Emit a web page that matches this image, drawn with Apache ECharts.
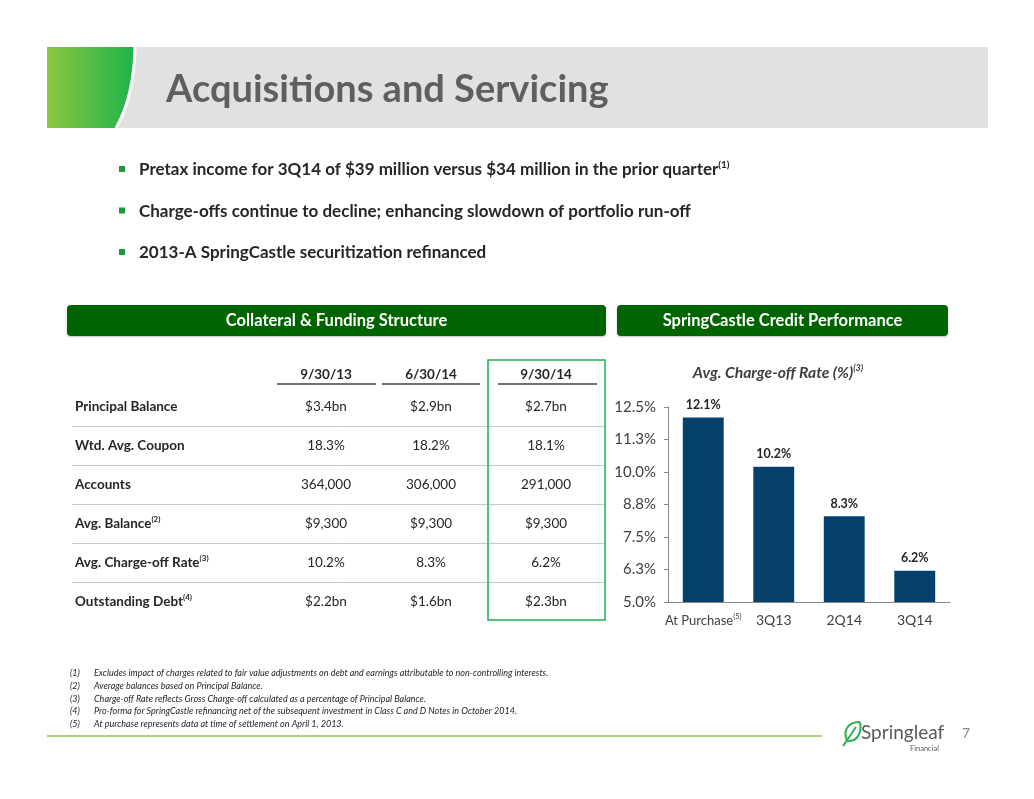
<!DOCTYPE html>
<html>
<head>
<meta charset="utf-8">
<title>Acquisitions and Servicing</title>
<script src="https://cdn.jsdelivr.net/npm/echarts@6/dist/echarts.min.js"></script>
<style>
  html, body { margin: 0; padding: 0; background: #fff; }
  #container { width: 1034px; height: 799px; }
</style>
</head>
<body>
<div id="container"></div>
<script>
// 数据
const categories = ['At Purchase', '3Q13', '2Q14', '3Q14'];
const chargeOffRate = [12.1, 10.2, 8.3, 6.2];
const yMin = 5, yMax = 12.5, yStep = 1.25;

const bullets = [
  ['Pretax income for 3Q14 of $39 million versus $34 million in the prior quarter', '(1)'],
  ['Charge-offs continue to decline; enhancing slowdown of portfolio run-off', ''],
  ['2013-A SpringCastle securitization refinanced', '']
];

const tableColumns = ['9/30/13', '6/30/14', '9/30/14'];
const tableRows = ['Principal Balance', 'Wtd. Avg. Coupon', 'Accounts', 'Avg. Balance', 'Avg. Charge-off Rate', 'Outstanding Debt'];
const rowNotes = ['', '', '', '(2)', '(3)', '(4)'];
const tableValues = [
  ['$3.4bn', '$2.9bn', '$2.7bn'],
  ['18.3%', '18.2%', '18.1%'],
  ['364,000', '306,000', '291,000'],
  ['$9,300', '$9,300', '$9,300'],
  ['10.2%', '8.3%', '6.2%'],
  ['$2.2bn', '$1.6bn', '$2.3bn']
];

const footnotes = [
  'Excludes impact of charges related to fair value adjustments on debt and earnings attributable to non-controlling interests.',
  'Average balances based on Principal Balance.',
  'Charge-off Rate reflects Gross Charge-off calculated as a percentage of Principal Balance.',
  'Pro-forma for SpringCastle refinancing net of the subsequent investment in Class C and D Notes in October 2014.',
  'At purchase represents data at time of settlement on April 1, 2013.'
];

const FONT = 'Lato, "Noto Sans", sans-serif';

var myChart = echarts.init(document.getElementById('container'));

// 页面装饰
let graphics = [];

// 标题栏
graphics.push({ type: 'rect', shape: { x: 47, y: 47, width: 941, height: 81 }, style: { fill: '#e1e1e1' } });
let curve = [];
for (let i = 0; i <= 20; i++) {
  let t = i / 20;
  let x = (1 - t) * (1 - t) * 135 + 2 * t * (1 - t) * 134 + t * t * 116;
  let y = (1 - t) * (1 - t) * 47 + 2 * t * (1 - t) * 96 + t * t * 128;
  curve.push([x, y]);
}
graphics.push({
  type: 'polygon',
  shape: { points: [[47, 47]].concat(curve).concat([[47, 128]]) },
  style: {
    fill: new echarts.graphic.LinearGradient(0, 0, 1, 0, [
      { offset: 0, color: '#8cc63f' },
      { offset: 1, color: '#1db34b' }
    ])
  }
});
graphics.push({ type: 'polyline', shape: { points: curve }, style: { stroke: '#fff', lineWidth: 3, fill: null } });
graphics.push({
  type: 'text',
  style: { x: 166, y: 90, text: 'Acquisitions and Servicing', font: 'bold 38px ' + FONT, fill: '#5f5f5f', verticalAlign: 'middle' }
});

// 要点
bullets.forEach(function (b, i) {
  let y = 170 + i * 41.5;
  graphics.push({ type: 'rect', shape: { x: 119, y: y - 4, width: 6, height: 6 }, style: { fill: '#1a9a3c' } });
  graphics.push({
    type: 'text',
    style: {
      x: 139, y: y,
      text: '{m|' + b[0] + '}' + (b[1] ? '{s|' + b[1] + '}' : ''),
      verticalAlign: 'middle',
      rich: {
        m: { fontFamily: FONT, fontWeight: 'bold', fontSize: 17, fill: '#262626' },
        s: { fontFamily: FONT, fontWeight: 'bold', fontSize: 10, fill: '#262626', padding: [0, 0, 10, 0] }
      }
    }
  });
});

// 分区标题
[[67, 539, 'Collateral & Funding Structure'], [617, 331, 'SpringCastle Credit Performance']].forEach(function (h) {
  graphics.push({
    type: 'rect',
    shape: { x: h[0], y: 305, width: h[1], height: 31, r: 4 },
    style: { fill: '#006400', shadowBlur: 2, shadowColor: 'rgba(0,0,0,0.25)', shadowOffsetY: 1 }
  });
  graphics.push({
    type: 'text',
    style: { x: h[0] + h[1] / 2, y: 321, text: h[2], font: 'bold 16.5px ' + FONT, fill: '#fff', align: 'center', verticalAlign: 'middle' }
  });
});

// 表格
const colX = [326, 431, 546];
const colLine = [[277, 376], [382, 480], [498, 597]];
tableColumns.forEach(function (c, j) {
  graphics.push({
    type: 'text',
    style: { x: colX[j], y: 375, text: c, font: 'bold 13.5px ' + FONT, fill: '#262626', align: 'center', verticalAlign: 'middle' }
  });
  graphics.push({
    type: 'line',
    shape: { x1: colLine[j][0], y1: 384, x2: colLine[j][1], y2: 384 },
    style: { stroke: '#404040', lineWidth: 1.5 }
  });
});
tableRows.forEach(function (r, i) {
  let y = 407 + i * 39;
  graphics.push({
    type: 'text',
    style: {
      x: 75, y: y,
      text: '{m|' + r + '}' + (rowNotes[i] ? '{s|' + rowNotes[i] + '}' : ''),
      verticalAlign: 'middle',
      rich: {
        m: { fontFamily: FONT, fontWeight: 'bold', fontSize: 13.5, fill: '#262626' },
        s: { fontFamily: FONT, fontWeight: 'bold', fontSize: 8, fill: '#262626', padding: [0, 0, 9, 0] }
      }
    }
  });
  tableValues[i].forEach(function (v, j) {
    graphics.push({
      type: 'text',
      style: { x: colX[j], y: y, text: v, font: '13.5px ' + FONT, fill: '#262626', align: 'center', verticalAlign: 'middle' }
    });
  });
  if (i < tableRows.length - 1) {
    graphics.push({
      type: 'line',
      shape: { x1: 72, y1: y + 19.5, x2: 605, y2: y + 19.5 },
      style: { stroke: '#c8c8c8', lineWidth: 1 }
    });
  }
});
graphics.push({
  type: 'rect',
  shape: { x: 488, y: 360, width: 117, height: 260 },
  style: { fill: null, stroke: '#1db34b', lineWidth: 1.5 }
});

// 图表标题
graphics.push({
  type: 'text',
  style: {
    x: 778, y: 373,
    text: '{t|Avg. Charge-off Rate (%)}{s|(3)}',
    align: 'center', verticalAlign: 'middle',
    rich: {
      t: { fontFamily: FONT, fontWeight: 'bold', fontStyle: 'italic', fontSize: 15.7, fill: '#404040' },
      s: { fontFamily: FONT, fontWeight: 'bold', fontStyle: 'italic', fontSize: 9, fill: '#404040', padding: [0, 0, 9, 0] }
    }
  }
});

// 脚注
footnotes.forEach(function (f, i) {
  let y = 673 + i * 12.8;
  graphics.push({
    type: 'text',
    style: { x: 70, y: y, text: '(' + (i + 1) + ')', font: 'italic 9px ' + FONT, fill: '#262626', verticalAlign: 'middle' }
  });
  graphics.push({
    type: 'text',
    style: { x: 94, y: y, text: f, font: 'italic 9px ' + FONT, fill: '#262626', verticalAlign: 'middle' }
  });
});
graphics.push({ type: 'line', shape: { x1: 47, y1: 736, x2: 822, y2: 736 }, style: { stroke: '#8cc63f', lineWidth: 1.5 } });

// 标志
graphics.push({
  type: 'bezierCurve',
  shape: { x1: 847, y1: 741, x2: 860, y2: 722, cpx1: 842, cpy1: 728, cpx2: 850, cpy2: 722 },
  style: { stroke: '#2bb24c', lineWidth: 2, fill: null }
});
graphics.push({
  type: 'bezierCurve',
  shape: { x1: 847, y1: 741, x2: 860, y2: 722, cpx1: 858, cpy1: 742, cpx2: 862, cpy2: 732 },
  style: { stroke: '#2bb24c', lineWidth: 2, fill: null }
});
graphics.push({ type: 'line', shape: { x1: 843, y1: 746, x2: 856, y2: 727 }, style: { stroke: '#2bb24c', lineWidth: 2 } });
graphics.push({
  type: 'text',
  style: { x: 861, y: 733, text: 'Springleaf', font: '19px ' + FONT, fill: '#5a5a5a', verticalAlign: 'middle' }
});
graphics.push({
  type: 'text',
  style: { x: 910, y: 749, text: 'Financial', font: '7.5px ' + FONT, fill: '#5a5a5a', verticalAlign: 'middle' }
});
graphics.push({
  type: 'text',
  style: { x: 962, y: 733, text: '7', font: '14px ' + FONT, fill: '#8a8a8a', verticalAlign: 'middle' }
});

var option = {
  backgroundColor: '#fff',
  animation: false,
  grid: { left: 668, right: 84, top: 407, bottom: 197 },
  xAxis: {
    type: 'category',
    data: categories,
    axisLine: { lineStyle: { color: '#868686' } },
    axisTick: { length: 4, lineStyle: { color: '#868686' } },
    axisLabel: {
      interval: 0,
      hideOverlap: false,
      margin: 11,
      color: '#404040',
      fontFamily: FONT,
      fontSize: 14,
      formatter: function (v, i) {
        return i === 0 ? '{m|' + v + '}{s|(5)}' : v;
      },
      rich: {
        m: { fontFamily: FONT, fontSize: 13, color: '#404040' },
        s: { fontFamily: FONT, fontSize: 7.5, color: '#404040', padding: [0, 0, 8, 0] }
      }
    }
  },
  yAxis: {
    type: 'value',
    min: yMin,
    max: yMax,
    interval: yStep,
    axisLine: { show: true, lineStyle: { color: '#868686' } },
    axisTick: { show: true, length: 4, lineStyle: { color: '#868686' } },
    splitLine: { show: false },
    axisLabel: {
      margin: 12,
      color: '#404040',
      fontFamily: FONT,
      fontSize: 15,
      formatter: function (v) { return v.toFixed(1) + '%'; }
    }
  },
  series: [{
    type: 'bar',
    data: chargeOffRate,
    barWidth: '58%',
    itemStyle: { color: '#05406b' },
    label: {
      show: true,
      position: 'top',
      distance: 6,
      fontFamily: FONT,
      fontWeight: 'bold',
      fontSize: 12.5,
      color: '#262626',
      formatter: function (p) { return p.value.toFixed(1) + '%'; }
    }
  }],
  graphic: graphics
};
myChart.setOption(option);
</script>
</body>
</html>
